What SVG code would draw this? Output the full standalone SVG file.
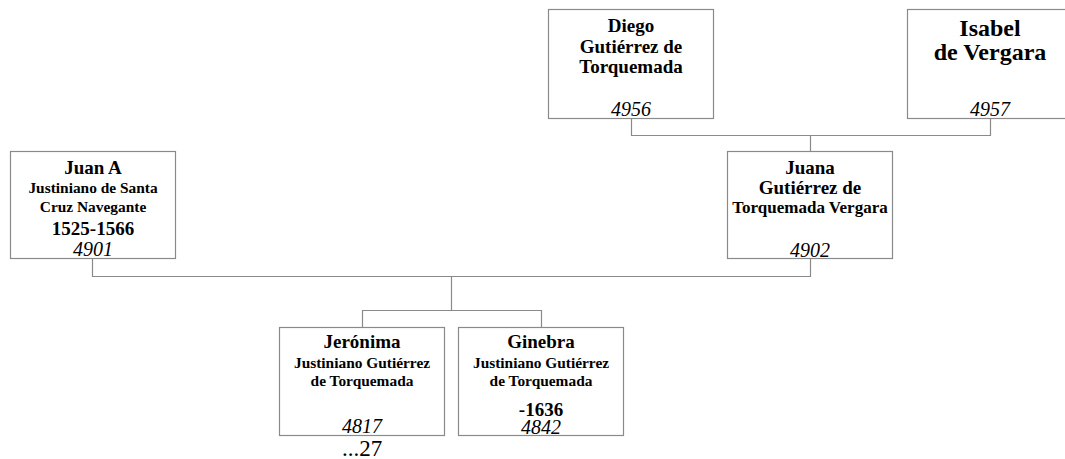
<svg xmlns="http://www.w3.org/2000/svg" width="1065" height="459" viewBox="0 0 1065 459">
<style>
.box{fill:#fff;stroke:#8a8a8a;stroke-width:1.2}
.ln{fill:none;stroke:#8a8a8a;stroke-width:1.2}
text{font-family:"Liberation Serif","Times New Roman",serif;fill:#000;text-anchor:middle}
.b19{font-weight:bold;font-size:19px}
.b24{font-weight:bold;font-size:24px}
.b17{font-weight:bold;font-size:17px}
.b15{font-weight:bold;font-size:15.4px}
.id{font-style:italic;font-size:20px}
.extra{font-size:23px}
</style>
<rect width="1065" height="459" fill="#fff"/>
<g id="connectors">
<path class="ln" d="M631.5 118.5V135.5H990.5V118.5M810.5 135.5V151.5"/>
<path class="ln" d="M92.5 258.5V276.5H810.5V258.5M451.5 276.5V310.5M362.5 327.5V310.5H541.5V327.5"/>
</g>
<g id="n4956">
<rect class="box" x="548.5" y="9.5" width="165" height="109"/>
<text class="b19" x="631" y="32">Diego</text>
<text class="b19" x="631" y="53">Gutiérrez de</text>
<text class="b19" x="631" y="73">Torquemada</text>
<text class="id" x="631" y="116">4956</text>
</g>
<g id="n4957">
<rect class="box" x="907.5" y="9.5" width="165" height="109"/>
<text class="b24" x="990" y="36">Isabel</text>
<text class="b24" x="990" y="60">de Vergara</text>
<text class="id" x="990" y="116">4957</text>
</g>
<g id="n4901">
<rect class="box" x="10.5" y="151.5" width="165" height="107"/>
<text class="b19" x="93" y="174">Juan A</text>
<text class="b15" x="93" y="193">Justiniano de Santa</text>
<text class="b15" x="93" y="212">Cruz Navegante</text>
<text class="b19" x="93" y="235">1525-1566</text>
<text class="id" x="93" y="256">4901</text>
</g>
<g id="n4902">
<rect class="box" x="727.5" y="151.5" width="165" height="107"/>
<text class="b19" x="810" y="174">Juana</text>
<text class="b19" x="810" y="194">Gutiérrez de</text>
<text class="b17" x="810" y="213">Torquemada Vergara</text>
<text class="id" x="810" y="257">4902</text>
</g>
<g id="n4817">
<rect class="box" x="279.5" y="327.5" width="165" height="108"/>
<text class="b19" x="362" y="348">Jerónima</text>
<text class="b15" x="362" y="368">Justiniano Gutiérrez</text>
<text class="b15" x="362" y="386">de Torquemada</text>
<text class="id" x="362" y="433">4817</text>
<text class="extra" x="362" y="456">...27</text>
</g>
<g id="n4842">
<rect class="box" x="458.5" y="327.5" width="165" height="108"/>
<text class="b19" x="541" y="348">Ginebra</text>
<text class="b15" x="541" y="368">Justiniano Gutiérrez</text>
<text class="b15" x="541" y="386">de Torquemada</text>
<text class="b19" x="541" y="416">-1636</text>
<text class="id" x="541" y="434">4842</text>
</g>
</svg>
